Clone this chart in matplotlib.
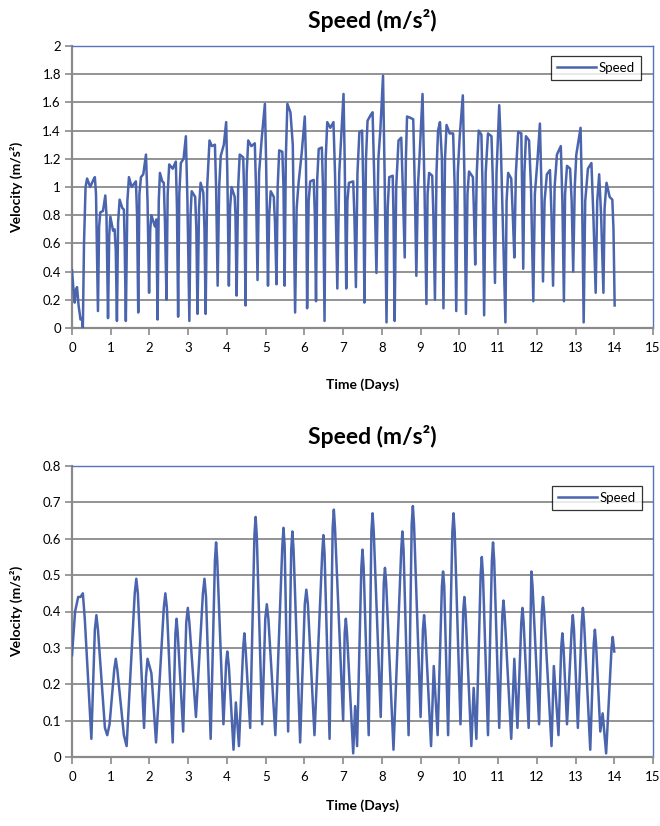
import matplotlib
matplotlib.use("Agg")
import matplotlib.pyplot as plt

plt.rcParams['font.family'] = ['Lato', 'DejaVu Sans']

# top panel: speed samples (days, m/s)
days_top = [
    0.00, 0.03, 0.07, 0.10, 0.13, 0.17, 0.22, 0.26, 0.28,
    0.31, 0.35, 0.39, 0.47, 0.55, 0.59, 0.62, 0.67,
    0.70, 0.73, 0.80, 0.86, 0.89, 0.93,
    0.96, 0.99, 1.06, 1.10, 1.13, 1.16,
    1.19, 1.23, 1.30, 1.34, 1.36, 1.39,
    1.43, 1.47, 1.54, 1.62, 1.65, 1.68, 1.71,
    1.74, 1.78, 1.84, 1.91, 1.95, 1.99,
    2.02, 2.05, 2.14, 2.18, 2.19, 2.21,
    2.24, 2.27, 2.33, 2.37, 2.40, 2.44,
    2.47, 2.51, 2.60, 2.68, 2.71, 2.74,
    2.77, 2.81, 2.88, 2.94, 2.98, 3.03,
    3.06, 3.09, 3.18, 3.21, 3.24,
    3.28, 3.32, 3.39, 3.42, 3.45,
    3.49, 3.55, 3.61, 3.69, 3.72, 3.76,
    3.80, 3.84, 3.92, 3.98, 4.01, 4.05,
    4.08, 4.12, 4.20, 4.22, 4.25,
    4.29, 4.33, 4.42, 4.45, 4.48,
    4.51, 4.55, 4.63, 4.72, 4.75, 4.79,
    4.83, 4.90, 4.98, 5.01, 5.06,
    5.09, 5.13, 5.21, 5.24, 5.28,
    5.31, 5.35, 5.43, 5.46, 5.49,
    5.52, 5.56, 5.64, 5.70, 5.76,
    5.80, 5.85, 5.93, 6.01, 6.04, 6.07,
    6.11, 6.15, 6.24, 6.27, 6.30,
    6.33, 6.37, 6.45, 6.48, 6.52,
    6.55, 6.59, 6.67, 6.75, 6.79, 6.85,
    6.90, 6.96, 7.01, 7.04, 7.08,
    7.11, 7.15, 7.26, 7.29, 7.33,
    7.37, 7.42, 7.49, 7.52, 7.55,
    7.59, 7.63, 7.71, 7.76, 7.80, 7.86,
    7.91, 7.96, 8.03, 8.07, 8.12,
    8.15, 8.19, 8.28, 8.30, 8.33,
    8.37, 8.43, 8.50, 8.54, 8.59,
    8.62, 8.65, 8.74, 8.81, 8.85, 8.89,
    8.93, 8.97, 9.05, 9.10, 9.15,
    9.18, 9.22, 9.30, 9.33, 9.37,
    9.41, 9.45, 9.50, 9.55, 9.59,
    9.63, 9.67, 9.75, 9.84, 9.88, 9.92,
    9.96, 10.01, 10.09, 10.13, 10.17,
    10.21, 10.25, 10.35, 10.38, 10.41,
    10.45, 10.50, 10.57, 10.60, 10.64,
    10.68, 10.74, 10.83, 10.87, 10.92,
    10.96, 11.03, 11.07, 11.19,
    11.22, 11.26, 11.34, 11.38, 11.42,
    11.46, 11.52, 11.60, 11.62, 11.65,
    11.68, 11.72, 11.80, 11.85, 11.91,
    11.95, 12.02, 12.08, 12.12, 12.16,
    12.20, 12.26, 12.34, 12.38, 12.42,
    12.46, 12.52, 12.62, 12.66, 12.70,
    12.73, 12.78, 12.86, 12.90, 12.94,
    12.98, 13.02, 13.13, 13.17, 13.21,
    13.25, 13.32, 13.41, 13.46, 13.52,
    13.56, 13.61, 13.66, 13.72,
    13.75, 13.80, 13.88, 13.95, 13.98, 14.01,
]
speed_top = [
    0.41, 0.30, 0.18, 0.27, 0.29, 0.16, 0.06, 0.07, 0.00,
    0.60, 1.00, 1.06, 1.00, 1.05, 1.07, 0.95, 0.12,
    0.72, 0.82, 0.83, 0.94, 0.80, 0.07,
    0.65, 0.79, 0.69, 0.70, 0.55, 0.05,
    0.75, 0.91, 0.85, 0.84, 0.60, 0.05,
    0.90, 1.07, 1.00, 1.03, 1.04, 0.80, 0.11,
    0.95, 1.07, 1.09, 1.23, 0.90, 0.25,
    0.70, 0.80, 0.72, 0.77, 0.50, 0.06,
    0.90, 1.10, 1.04, 1.03, 0.75, 0.20,
    0.95, 1.16, 1.13, 1.18, 0.85, 0.08,
    0.95, 1.17, 1.20, 1.36, 0.90, 0.05,
    0.80, 0.97, 0.93, 0.70, 0.10,
    0.85, 1.03, 0.96, 0.70, 0.10,
    1.00, 1.33, 1.29, 1.30, 1.00, 0.30,
    1.00, 1.22, 1.30, 1.46, 1.10, 0.30,
    0.85, 1.00, 0.93, 0.80, 0.23,
    1.00, 1.23, 1.21, 0.90, 0.16,
    1.10, 1.33, 1.29, 1.31, 1.00, 0.34,
    1.10, 1.35, 1.59, 1.20, 0.30,
    0.80, 0.97, 0.93, 0.75, 0.31,
    1.00, 1.26, 1.25, 1.00, 0.30,
    1.20, 1.59, 1.53, 1.30, 0.11,
    0.85, 1.03, 1.24, 1.50, 1.20, 0.14,
    0.90, 1.04, 1.05, 0.80, 0.19,
    1.05, 1.27, 1.28, 1.00, 0.05,
    1.20, 1.46, 1.42, 1.46, 1.10, 0.28,
    1.10, 1.40, 1.66, 1.20, 0.28,
    0.90, 1.03, 1.04, 0.80, 0.29,
    1.10, 1.39, 1.40, 1.00, 0.18,
    1.20, 1.47, 1.51, 1.53, 1.10, 0.39,
    1.20, 1.40, 1.79, 1.10, 0.04,
    0.85, 1.07, 1.08, 0.80, 0.05,
    1.00, 1.33, 1.35, 1.00, 0.50,
    1.20, 1.50, 1.49, 1.48, 1.00, 0.37,
    1.00, 1.20, 1.66, 1.00, 0.17,
    0.95, 1.10, 1.08, 0.80, 0.20,
    1.10, 1.40, 1.46, 1.20, 0.14,
    1.20, 1.44, 1.38, 1.38, 1.00, 0.12,
    1.10, 1.36, 1.65, 1.10, 0.10,
    0.95, 1.11, 1.07, 0.80, 0.45,
    1.10, 1.40, 1.37, 1.00, 0.09,
    1.10, 1.38, 1.36, 1.00, 0.32,
    1.10, 1.58, 1.30, 0.04,
    0.90, 1.10, 1.06, 0.80, 0.50,
    1.10, 1.39, 1.38, 1.00, 0.42,
    1.10, 1.36, 1.33, 1.00, 0.19,
    0.95, 1.20, 1.45, 1.00, 0.33,
    0.90, 1.09, 1.12, 0.80, 0.30,
    1.00, 1.23, 1.29, 0.90, 0.19,
    0.95, 1.15, 1.13, 0.90, 0.40,
    1.00, 1.23, 1.42, 0.90, 0.04,
    0.90, 1.13, 1.17, 0.80, 0.25,
    0.90, 1.09, 0.80, 0.25,
    0.85, 1.03, 0.93, 0.91, 0.70, 0.16,
]

# bottom panel
days_bot = [
    0.00, 0.08, 0.16, 0.22, 0.28, 0.33, 0.50, 0.59, 0.63, 0.67,
    0.85, 0.91, 0.97, 1.09, 1.13, 1.17, 1.34, 1.41, 1.62, 1.66, 1.70,
    1.86, 1.91, 1.95, 2.05, 2.17, 2.37, 2.41, 2.45, 2.60, 2.67, 2.70,
    2.73, 2.87, 2.95, 2.99, 3.03, 3.20, 3.38, 3.42, 3.46, 3.58, 3.69,
    3.72, 3.75, 3.91, 3.98, 4.01, 4.05, 4.17, 4.23, 4.31, 4.42, 4.45,
    4.48, 4.60, 4.71, 4.74, 4.77, 4.91, 4.99, 5.03, 5.07, 5.25, 5.43,
    5.46, 5.49, 5.58, 5.66, 5.69, 5.72, 5.89, 6.01, 6.05, 6.09, 6.26,
    6.46, 6.49, 6.52, 6.65, 6.73, 6.76, 6.79, 7.00, 7.04, 7.07, 7.10,
    7.26, 7.31, 7.36, 7.47, 7.50, 7.53, 7.66, 7.73, 7.76, 7.79, 7.97,
    8.05, 8.08, 8.11, 8.30, 8.50, 8.53, 8.56, 8.69, 8.77, 8.80, 8.83,
    9.00, 9.06, 9.09, 9.12, 9.27, 9.34, 9.44, 9.55, 9.58, 9.61, 9.71,
    9.82, 9.85, 9.88, 10.03, 10.10, 10.13, 10.16, 10.31, 10.37, 10.44,
    10.55, 10.58, 10.61, 10.74, 10.84, 10.87, 10.90, 11.03, 11.11,
    11.14, 11.17, 11.34, 11.42, 11.50, 11.60, 11.63, 11.66, 11.79,
    11.86, 11.89, 12.06, 12.13, 12.16, 12.19, 12.38, 12.44, 12.56,
    12.63, 12.66, 12.69, 12.78, 12.90, 12.93, 12.96, 13.06, 13.16,
    13.19, 13.22, 13.38, 13.47, 13.50, 13.53, 13.64, 13.70, 13.79,
    13.93, 13.96, 14.00,
]
speed_bot = [
    0.28, 0.40, 0.44, 0.44, 0.45, 0.38, 0.05, 0.35, 0.39, 0.35,
    0.08, 0.06, 0.09, 0.24, 0.27, 0.24, 0.06, 0.03, 0.45, 0.49, 0.45,
    0.08, 0.22, 0.27, 0.23, 0.04, 0.41, 0.45, 0.41, 0.04, 0.34, 0.38,
    0.34, 0.07, 0.37, 0.41, 0.37, 0.11, 0.45, 0.49, 0.44, 0.05, 0.54,
    0.59, 0.54, 0.09, 0.26, 0.29, 0.25, 0.02, 0.15, 0.03, 0.30, 0.34,
    0.30, 0.08, 0.61, 0.66, 0.61, 0.09, 0.38, 0.42, 0.38, 0.06, 0.58,
    0.63, 0.58, 0.07, 0.57, 0.62, 0.57, 0.04, 0.42, 0.46, 0.42, 0.06,
    0.56, 0.61, 0.56, 0.05, 0.63, 0.68, 0.63, 0.10, 0.34, 0.38, 0.34,
    0.01, 0.14, 0.03, 0.52, 0.57, 0.52, 0.06, 0.62, 0.67, 0.62, 0.11,
    0.48, 0.52, 0.48, 0.02, 0.57, 0.62, 0.57, 0.06, 0.64, 0.69, 0.64,
    0.11, 0.35, 0.39, 0.35, 0.03, 0.25, 0.06, 0.47, 0.51, 0.47, 0.06,
    0.62, 0.67, 0.62, 0.09, 0.40, 0.44, 0.40, 0.03, 0.19, 0.05,
    0.50, 0.55, 0.50, 0.06, 0.54, 0.59, 0.54, 0.08, 0.39,
    0.43, 0.39, 0.05, 0.27, 0.08, 0.37, 0.41, 0.37, 0.08,
    0.51, 0.47, 0.09, 0.40, 0.44, 0.40, 0.03, 0.25, 0.06,
    0.30, 0.34, 0.30, 0.09, 0.35, 0.39, 0.35, 0.08, 0.37,
    0.41, 0.37, 0.02, 0.31, 0.35, 0.31, 0.07, 0.12, 0.01,
    0.30, 0.33, 0.29,
]

x_ticks = list(range(16))
y_ticks_top = [0, 0.2, 0.4, 0.6, 0.8, 1, 1.2, 1.4, 1.6, 1.8, 2]
y_labels_top = ["0", "0.2", "0.4", "0.6", "0.8", "1", "1.2", "1.4", "1.6", "1.8", "2"]
y_ticks_bot = [0, 0.1, 0.2, 0.3, 0.4, 0.5, 0.6, 0.7, 0.8]
y_labels_bot = ["0", "0.1", "0.2", "0.3", "0.4", "0.5", "0.6", "0.7", "0.8"]

LINE = "#4a65ae"
GRID = "#8a8a8a"
BORDER = "#5472c0"
W, H = 660, 826


def px_box(left, top, right, bottom):
    return [left / W, 1 - bottom / H, (right - left) / W, (bottom - top) / H]


def style_panel(ax, days, speed, ymax, yticks, ylabels, leg_anchor):
    ax.plot(days, speed, color=LINE, lw=1.8, label="Speed", zorder=3,
            solid_joinstyle="round")
    ax.set_xlim(0, 15)
    ax.set_ylim(0, ymax)
    ax.set_xticks(x_ticks)
    ax.set_xticklabels([str(t) for t in x_ticks])
    ax.set_yticks(yticks)
    ax.set_yticklabels(ylabels)
    ax.yaxis.grid(True, color=GRID, lw=1.3, zorder=1)
    ax.set_axisbelow(True)
    for side in ("left", "bottom"):
        ax.spines[side].set_color(GRID)
        ax.spines[side].set_linewidth(1.6)
    for side in ("top", "right"):
        ax.spines[side].set_color(BORDER)
        ax.spines[side].set_linewidth(1.0)
    ax.tick_params(axis="both", direction="out", length=5, width=1.2,
                   color=GRID, labelsize=9.5, pad=3)
    ax.tick_params(axis="x", pad=5)
    leg = ax.legend(loc="upper right", bbox_to_anchor=leg_anchor,
                    frameon=True, fancybox=False, fontsize=9.5,
                    handlelength=3.0, handletextpad=0.2, borderpad=0.45,
                    borderaxespad=0)
    leg.get_frame().set_edgecolor("black")
    leg.get_frame().set_linewidth(0.9)


fig = plt.figure(figsize=(6.6, 8.26), dpi=100)

ax1 = fig.add_axes(px_box(72, 46, 653, 328))
style_panel(ax1, days_top, speed_top, 2, y_ticks_top, y_labels_top,
            ((641 - 72) / 581, (328 - 56) / 282))

ax2 = fig.add_axes(px_box(72, 466, 653, 757))
style_panel(ax2, days_bot, speed_bot, 0.8, y_ticks_bot, y_labels_bot,
            ((642 - 72) / 581, (757 - 486) / 291))

for title_y, xlab_y, ylab_y in ((21, 385, 187), (437, 806, 611)):
    fig.text(372 / W, 1 - title_y / H, "Speed (m/s²)", ha="center",
             va="center", fontsize=16.5, fontweight="bold")
    fig.text(362 / W, 1 - xlab_y / H, "Time (Days)", ha="center",
             va="center", fontsize=10, fontweight="bold")
    fig.text(17 / W, 1 - ylab_y / H, "Velocity (m/s²)", ha="center",
             va="center", rotation=90, fontsize=10, fontweight="bold")

fig.savefig("out.png", dpi=100)
